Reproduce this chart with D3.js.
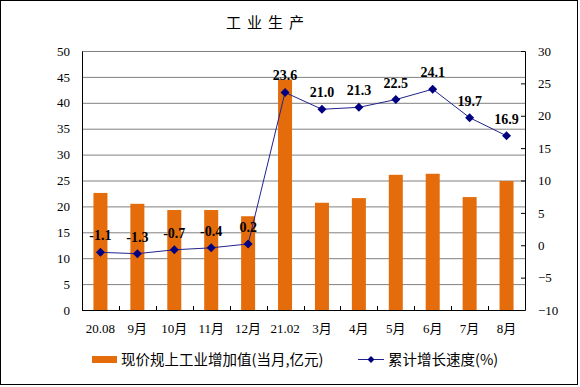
<!DOCTYPE html>
<html>
<head>
<meta charset="utf-8">
<script src="https://cdn.jsdelivr.net/npm/d3@7"></script>
<style>
  body { margin: 0; background: #fff; }
  text { font-family: "Liberation Serif", "Times New Roman", serif; }
  .cjk { font-family: "Noto Sans CJK SC", sans-serif; }
</style>
</head>
<body>
<div id="viz"></div>
<script>
// categories and series
var months = ["20.08", "9月", "10月", "11月", "12月", "21.02", "3月", "4月", "5月", "6月", "7月", "8月"];
var monthValue = [22.6, 20.5, 19.3, 19.3, 18.1, 44.5, 20.7, 21.6, 26.1, 26.3, 21.8, 24.9];
var growth = [-1.1, -1.3, -0.7, -0.4, 0.2, 23.6, 21.0, 21.3, 22.5, 24.1, 19.7, 16.9];
var leftTicks = [0, 5, 10, 15, 20, 25, 30, 35, 40, 45, 50];
var rightTicks = [-10, -5, 0, 5, 10, 15, 20, 25, 30];

var width = 580, height = 387;
var margin = { top: 51, right: 55, bottom: 77, left: 82 };
var innerW = width - margin.left - margin.right,
    innerH = height - margin.top - margin.bottom;

var svg = d3.select("#viz")
  .append("svg")
  .attr("width", width)
  .attr("height", height);

// outer frame
svg.append("rect")
  .attr("x", 0.5).attr("y", 0.5)
  .attr("width", width - 3).attr("height", height - 3)
  .attr("fill", "none")
  .attr("stroke", "#000");

svg.append("text")
  .attr("class", "cjk")
  .attr("x", 268).attr("y", 28)
  .attr("text-anchor", "middle")
  .style("font-size", "15px")
  .style("letter-spacing", "6px")
  .text("工业生产");

var g = svg.append("g").attr("transform", "translate(" + margin.left + "," + margin.top + ")");

var x = d3.scaleBand().domain(months).range([0, innerW]);
var yL = d3.scaleLinear().domain([0, 50]).range([innerH, 0]);
var yR = d3.scaleLinear().domain([-10, 30]).range([innerH, 0]);

// gridlines
g.selectAll(".grid")
  .data(leftTicks.slice(1))
  .enter().append("line")
  .attr("x1", 0).attr("x2", innerW)
  .attr("y1", function(d) { return yL(d) + 0.5; })
  .attr("y2", function(d) { return yL(d) + 0.5; })
  .attr("stroke", "#808080");

// bars
g.selectAll(".bar")
  .data(monthValue)
  .enter().append("rect")
  .attr("x", function(d, i) { return x(months[i]) + x.bandwidth() / 2 - 7; })
  .attr("width", 14)
  .attr("y", function(d) { return yL(d); })
  .attr("height", function(d) { return innerH - yL(d); })
  .attr("fill", "#E46C0A");

// left axis
var leftAxis = g.append("g")
  .call(d3.axisLeft(yL).tickValues(leftTicks).tickSize(0).tickPadding(12));
leftAxis.select(".domain").attr("stroke", "#000");
leftAxis.selectAll("text").style("font-size", "13px").style("font-family", "Liberation Serif, serif");

// right axis, inward ticks
var rightAxis = g.append("g")
  .attr("transform", "translate(" + innerW + ",0)")
  .call(d3.axisRight(yR).tickValues(rightTicks).tickSize(-4).tickPadding(13));
rightAxis.select(".domain").attr("stroke", "#000");
rightAxis.selectAll("line").attr("stroke", "#000");
rightAxis.selectAll("text").style("font-size", "13px").style("font-family", "Liberation Serif, serif");

// bottom axis with ticks between categories
g.append("line")
  .attr("x1", 0).attr("x2", innerW)
  .attr("y1", innerH + 0.5).attr("y2", innerH + 0.5)
  .attr("stroke", "#000");
g.selectAll(".xtick")
  .data(months.slice(1))
  .enter().append("line")
  .attr("x1", function(d) { return Math.round(x(d)) + 0.5; })
  .attr("x2", function(d) { return Math.round(x(d)) + 0.5; })
  .attr("y1", innerH).attr("y2", innerH - 4)
  .attr("stroke", "#000");

var xl = g.selectAll(".xlab")
  .data(months)
  .enter().append("text")
  .attr("x", function(d) { return x(d) + x.bandwidth() / 2; })
  .attr("y", innerH + 23)
  .attr("text-anchor", "middle")
  .style("font-size", "13px");
xl.each(function(d) {
  var t = d3.select(this);
  var m = d.match(/^(\d+)(月)?$/);
  if (m && m[2]) {
    t.append("tspan").text(m[1]);
    t.append("tspan").attr("class", "cjk").style("font-size", "13px").text(m[2]);
  } else {
    t.text(d);
  }
});

// growth line
var cx = function(d, i) { return x(months[i]) + x.bandwidth() / 2; };
var line = d3.line()
  .x(function(d, i) { return cx(d, i); })
  .y(function(d) { return yR(d); });

g.append("path")
  .datum(growth)
  .attr("d", line)
  .attr("fill", "none")
  .attr("stroke", "#22228F")
  .attr("stroke-width", 1);

// square diamond marker
function diamondPath(r) {
  return "M0," + (-r) + "L" + r + ",0L0," + r + "L" + (-r) + ",0Z";
}

g.selectAll(".pt")
  .data(growth)
  .enter().append("path")
  .attr("d", diamondPath(4.5))
  .attr("transform", function(d, i) { return "translate(" + cx(d, i) + "," + yR(d) + ")"; })
  .attr("fill", "#000080");

g.selectAll(".lab")
  .data(growth)
  .enter().append("text")
  .attr("x", function(d, i) { return cx(d, i); })
  .attr("y", function(d) { return yR(d) - 12; })
  .attr("text-anchor", "middle")
  .style("font-size", "14px")
  .style("font-weight", "bold")
  .text(function(d) { return d.toFixed(1); });

// legend
var lg = svg.append("g");
lg.append("rect")
  .attr("x", 92).attr("y", 356)
  .attr("width", 25).attr("height", 7)
  .attr("fill", "#E46C0A");
lg.append("text")
  .attr("class", "cjk")
  .attr("x", 121).attr("y", 365)
  .style("font-size", "14.5px")
  .text("现价规上工业增加值(当月,亿元)");
lg.append("line")
  .attr("x1", 358).attr("x2", 384)
  .attr("y1", 359.5).attr("y2", 359.5)
  .attr("stroke", "#22228F");
lg.append("path")
  .attr("d", diamondPath(3.5))
  .attr("transform", "translate(371,359.5)")
  .attr("fill", "#000080");
lg.append("text")
  .attr("class", "cjk")
  .attr("x", 388).attr("y", 365)
  .style("font-size", "14.5px")
  .text("累计增长速度(%)");
</script>
</body>
</html>
